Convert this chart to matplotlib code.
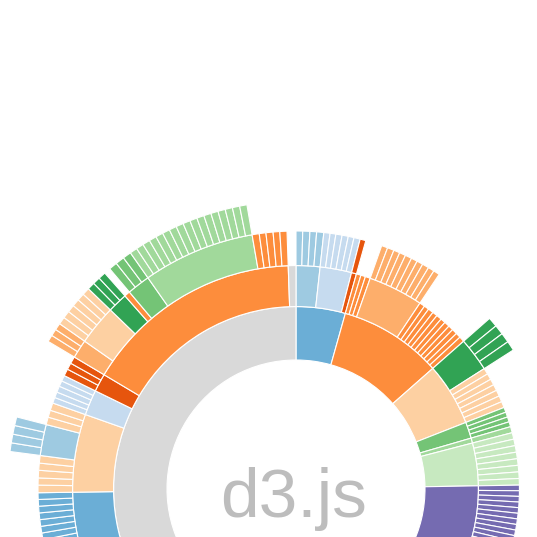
import matplotlib
matplotlib.use("Agg")
import matplotlib.pyplot as plt
import numpy as np

# category20c colours used by the d3 sunburst
GRAY = "#d9d9d9"
BLUE = "#6baed6"
BLUE_MID = "#9ecae1"
BLUE_PALE = "#c6dbef"
ORANGE_DARK = "#e6550d"
ORANGE = "#fd8d3c"
ORANGE_LIGHT = "#fdae6b"
PEACH = "#fdd0a2"
GREEN_DARK = "#31a354"
GREEN = "#74c476"
GREEN_LIGHT = "#a1d99b"
GREEN_PALE = "#c7e9c0"
PURPLE = "#756bb1"

# leaf sizes (degrees of arc), one list per parent module
# right half, laid out clockwise from the top
blue_mid_leaves = [1.5, 1.6, 1.5, 1.6]
blue_pale_leaves = [1.4, 1.3, 1.4, 1.4, 1.3, 1.4]
blue_dark_orange_leaves = [1.3]
orange_leaves_a = [1.2, 1.2, 1.3]
orange_light_leaves = [1.4, 1.5, 1.4, 1.4, 1.5, 1.4, 1.4, 1.5, 1.4, 1.4]
orange_leaves_b = [1.4, 1.3, 1.4, 1.3, 1.4, 1.3, 1.4, 1.3, 1.4, 1.3, 1.4]
green_dark_leaves = [2.2, 2.2, 2.2, 2.2]
peach_leaves = [1.6, 1.6, 1.6, 1.6, 1.6, 1.6, 1.6]
green_leaves = [1.3, 1.3, 1.3, 1.3]
green_light_leaves = [1.6]
green_pale_leaves = [1.7, 1.7, 1.7, 1.7, 1.7, 1.7, 1.7, 1.7]
purple_leaves = [1.45, 1.45, 1.45, 1.45, 1.45, 1.45, 1.45, 1.45, 1.45, 1.45,
                 1.45, 1.45, 1.45, 1.45, 1.45, 1.45, 1.45, 1.45, 1.45, 1.45]

# left half (children of the big gray module), ends at the top
blue_left_leaves = [1.5, 1.5, 1.5, 1.5, 1.5, 1.5, 1.5, 1.5,
                    1.5, 1.5, 1.5, 1.5, 1.5, 1.5, 1.5, 1.5]
peach_left_leaves_a = [1.7, 1.6, 1.7, 1.6, 1.7]
blue_mid_left_leaves = [1.75, 1.75, 1.75, 1.75]
peach_left_leaves_b = [1.7, 1.6, 1.7]
blue_pale_left_leaves = [1.3, 1.3, 1.4, 1.3, 1.3]
dark_orange_left_leaves = [1.6, 1.5, 1.6]
sub_orange_light_leaves = [1.4, 1.4, 1.4]
sub_peach_leaves = [1.5, 1.5, 1.5, 1.5, 1.5, 1.5]
sub_green_dark_leaves = [1.5, 1.5, 1.5]
sub_orange_single = [1.3]
sub_green_leaves = [1.7, 1.8, 1.7]
sub_green_light_leaves = [1.5, 1.5, 1.5, 1.5, 1.5, 1.5, 1.5, 1.5, 1.47,
                          1.47, 1.47, 1.47, 1.47, 1.47, 1.47, 1.47, 1.47]
sub_orange_leaves = [1.6, 1.5, 1.6, 1.5, 1.6]
gray_single = [2.0]

# internal node = (colour, children), leaf = number
right_nodes = [
    (BLUE, [(BLUE_MID, blue_mid_leaves),
            (BLUE_PALE, blue_pale_leaves),
            (ORANGE_DARK, blue_dark_orange_leaves)]),
    (ORANGE, orange_leaves_a + [(ORANGE_LIGHT, orange_light_leaves)] + orange_leaves_b),
    (PEACH, [(GREEN_DARK, green_dark_leaves)] + peach_leaves),
    (GREEN, green_leaves),
    (GREEN_LIGHT, green_light_leaves),
    (GREEN_PALE, green_pale_leaves),
    (PURPLE, purple_leaves),
]

left_node = (GRAY, [
    (BLUE, blue_left_leaves),
    (PEACH, peach_left_leaves_a + [(BLUE_MID, blue_mid_left_leaves)] + peach_left_leaves_b),
    (BLUE_PALE, blue_pale_left_leaves),
    (ORANGE_DARK, dark_orange_left_leaves),
    (ORANGE, [(ORANGE_LIGHT, sub_orange_light_leaves),
              (PEACH, sub_peach_leaves),
              (GREEN_DARK, sub_green_dark_leaves)]
             + sub_orange_single
             + [(GREEN, sub_green_leaves),
                (GREEN_LIGHT, sub_green_light_leaves)]
             + sub_orange_leaves),
] + gray_single)


def size(node):
    if isinstance(node, (int, float)):
        return node
    return sum(size(c) for c in node[1])


# partition: collect (depth, start, width, colour); leaves take the parent colour
def layout(node, start, depth, parent_color, out):
    if isinstance(node, (int, float)):
        out.append((depth, start, node, parent_color))
        return
    color, kids = node
    out.append((depth, start, size(node), color))
    a = start
    for k in kids:
        layout(k, a, depth + 1, color, out)
        a += size(k)


arcs = []
a = 0.0
for n in right_nodes:
    layout(n, a, 1, None, arcs)
    a += size(n)
layout(left_node, 360.0 - size(left_node), 1, None, arcs)

# sqrt radius scale, as in the d3 sunburst
R = 129.0
depth = np.array([x[0] for x in arcs])
start = np.deg2rad([x[1] for x in arcs])
width = np.deg2rad([x[2] for x in arcs])
colors = [x[3] for x in arcs]
inner = R * np.sqrt(depth)
outer = R * np.sqrt(depth + 1)

W = 537
cx, cy = 296, 489  # centre in pixels (from top-left)
rmax = 320
fig = plt.figure(figsize=(W / 100, W / 100), dpi=100)
ax = fig.add_axes([(cx - rmax) / W, (W - cy - rmax) / W, 2 * rmax / W, 2 * rmax / W],
                  projection="polar")
ax.set_theta_zero_location("N")
ax.set_theta_direction(-1)
ax.bar(start, outer - inner, width=width, bottom=inner, align="edge",
       color=colors, edgecolor="white", linewidth=0.8)
ax.set_ylim(0, rmax)
ax.set_axis_off()

fig.text(293.5 / W, (W - 517) / W, "d3.js", ha="center", va="baseline",
         fontsize=50, color="#bdbdbd", family="Liberation Sans")

fig.savefig("out.png", dpi=100)
